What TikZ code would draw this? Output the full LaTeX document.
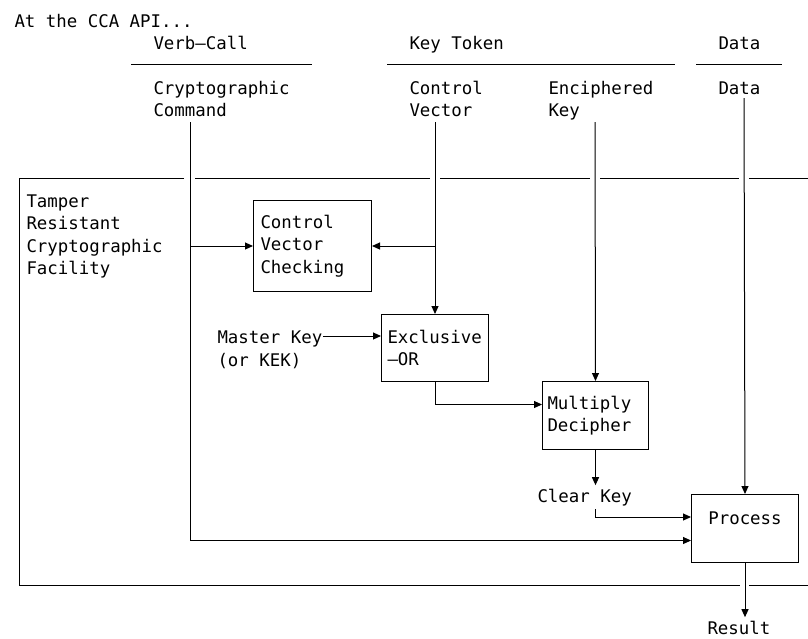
\documentclass[tikz,border=0pt]{standalone}
\usepackage{fontspec}
\setmonofont{DejaVu Sans Mono}
\usetikzlibrary{arrows.meta,positioning,calc}

\begin{document}
\begin{tikzpicture}[x=1pt,y=-1pt,line width=1pt,
    font=\ttfamily\fontsize{17.4}{22.6}\selectfont,
    >={Triangle[length=8pt,width=7pt]},
    lbl/.style={anchor=base west,align=left,inner xsep=0pt,inner ysep=3pt},
    lbls/.style={lbl,text width=#1},
    blk/.style={draw,anchor=north west,align=left,inner ysep=0pt}]
  \useasboundingbox (0,0) rectangle (808,638);
  % header
  \node[lbl] (api) at (14,27) {At the CCA API...};
  \node[lbl] (verb) at (153,49) {Verb—Call};
  \node[lbl] (ktok) at (409,49) {Key Token};
  \node[lbl] (dhead) at (718,49) {Data};
  \draw (131,64) -- (312,64);
  \draw (387,64) -- (675,64);
  \draw (696,64) -- (782,64);
  \node[lbls=140pt] (cmd) at (153,94) {Cryptographic\\Command};
  \node[lbls=80pt] (cv) at (409,94) {Control\\Vector};
  \node[lbls=110pt] (ek) at (548,94) {Enciphered\\Key};
  \node[lbl] (data) at (718,94) {Data};
  \coordinate (vtop) at (190,122);
  \coordinate (cvtop) at (435,122);
  \coordinate (ektop) at (595,122);
  \coordinate (dtop) at (744,98);
  % facility frame
  \draw (184,178) -- (19,178) -- (19,585) -- (740,585);
  \draw (749,585) -- (808,585);
  \draw (195,178) -- (430,178);
  \draw (440,178) -- (590,178);
  \draw (600,178) -- (739,178);
  \draw (749,178) -- (808,178);
  \node[lbls=140pt] (trcf) at (26,207) {Tamper\\Resistant\\Cryptographic\\Facility};
  % blocks
  \node[blk,minimum width=118pt,minimum height=91pt,text width=104pt,inner xsep=7pt]
    (cvc) at (253,200) {Control\\Vector\\Checking};
  \node[blk,minimum width=107pt,minimum height=67pt,text width=95pt,inner xsep=6pt]
    (exor) at (381,314) {Exclusive\\—OR};
  \node[blk,minimum width=106pt,minimum height=68pt,text width=96pt,inner xsep=5pt]
    (mult) at (542,381) {Multiply\\Decipher};
  \node[blk,align=center,minimum width=107pt,minimum height=68pt,text width=95pt,
    inner xsep=6pt,text height=13pt,text depth=21pt] (proc) at (691,494) {Process};
  % base of the last line
  \node[lbl] (mkey) at (217,366) {Master Key\\(or KEK)};
  \node[lbl] (ck) at (537,502) {Clear Key};
  \node[lbl] (res) at (707,634) {Result};
  % arrows
  \draw[->] (vtop) |- ([yshift=-12pt]proc.west);
  \draw[->] (vtop |- cvc.west) -- (cvc.west);
  \draw[->] (cvtop) -- (exor.north);
  \draw[->] (cvtop |- cvc.east) -- (cvc.east);
  \draw[->] (ektop) -- (mult.north);
  \draw[->] (dtop) -- (proc.north);
  \draw[->] ([yshift=30pt]mkey.base east) -- ([yshift=30pt]mkey.base east -| exor.west);
  \draw[->] (exor.south) |- ([yshift=11pt]mult.west);
  \draw[->] (mult.south) -- (mult.south |- ck.north);
  \draw[->] (mult.south |- ck.south) |- ([yshift=11.5pt]proc.west);
  \draw[->] (proc.south) -- (proc.south |- res.north);
\end{tikzpicture}
\end{document}
